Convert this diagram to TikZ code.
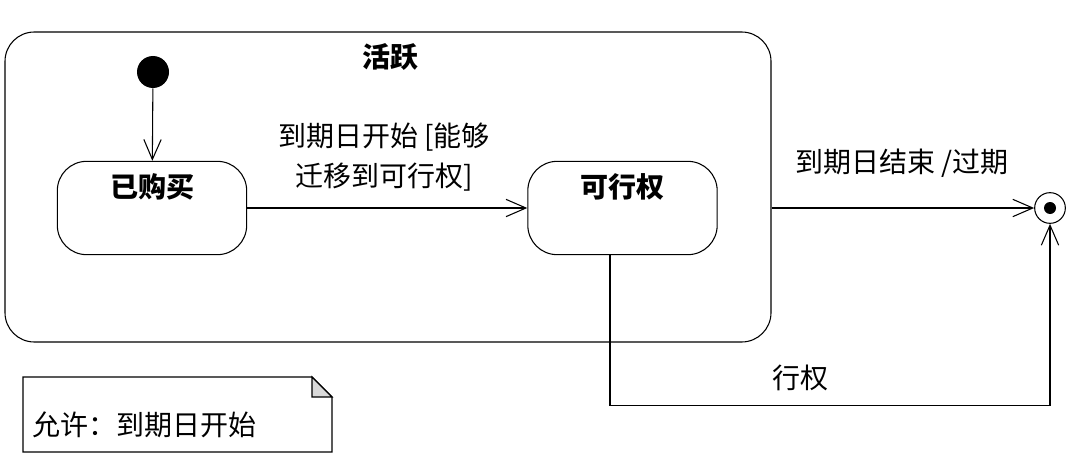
\documentclass[tikz,border=0pt]{standalone}
\usepackage{fontspec}
\setmainfont{Noto Sans CJK SC}
\usetikzlibrary{arrows.meta,positioning}

\begin{document}
\begin{tikzpicture}[x=0.75pt, y=-0.75pt,
    every node/.style={font=\fontsize{21}{30}\selectfont},
    statename/.style={font=\bfseries\fontsize{21}{24}\selectfont},
    state/.style={rectangle, rounded corners=22pt, draw, line width=0.8pt, minimum width=142pt, minimum height=70pt},
    trans/.style={-{Straight Barb[length=15pt,width=13pt]}, line width=0.8pt}]
    \useasboundingbox (0,0) rectangle (1080,474);

    \node[draw, rounded corners=22pt, line width=0.8pt, minimum width=574.5pt, minimum height=232.5pt] (active) at (388,187) {};
    \node[statename] (title) at (390,57) {活跃};

    \node[circle, fill, minimum size=24pt, inner sep=0pt] (init) at (153,72) {};
    \node[state, label={[statename, anchor=center, yshift=-19.5pt]north:已购买}] (buy) at (152,208) {};
    \node[state, label={[statename, anchor=center, yshift=-19.5pt]north:可行权}] (exer) at (622.5,208) {};
    \node[circle, draw, line width=0.8pt, minimum size=23pt, inner sep=0pt] (final) at (1050,208) {};
    \node[circle, fill, minimum size=9pt, inner sep=0pt] (finaldot) at (final) {};

    \node[align=center] (guard) at (384,157) {到期日开始 [能够\\迁移到可行权]};
    \node (expire) at (902,163) {到期日结束 /过期};
    \node (exercise) at (800,378) {行权};

    \draw[trans] (init) -- (buy);
    \draw[trans] (buy) -- (exer);
    \draw[trans] (active.east |- exer) -- (final);
    \draw[trans] ([xshift=-9.4pt]exer.south) -- ++(0,150) -| (final.south);

    % note
    \draw[line width=0.8pt] (23,377) -- (312,377) -- (332,397) -- (332,452) -- (23,452) -- cycle;
    \filldraw[fill=gray!30, line width=0.8pt] (312,377) -- (312,397) -- (332,397) -- cycle;
    \node[anchor=west, inner sep=0pt] (notetext) at (32,425) {允许：到期日开始};
\end{tikzpicture}
\end{document}
